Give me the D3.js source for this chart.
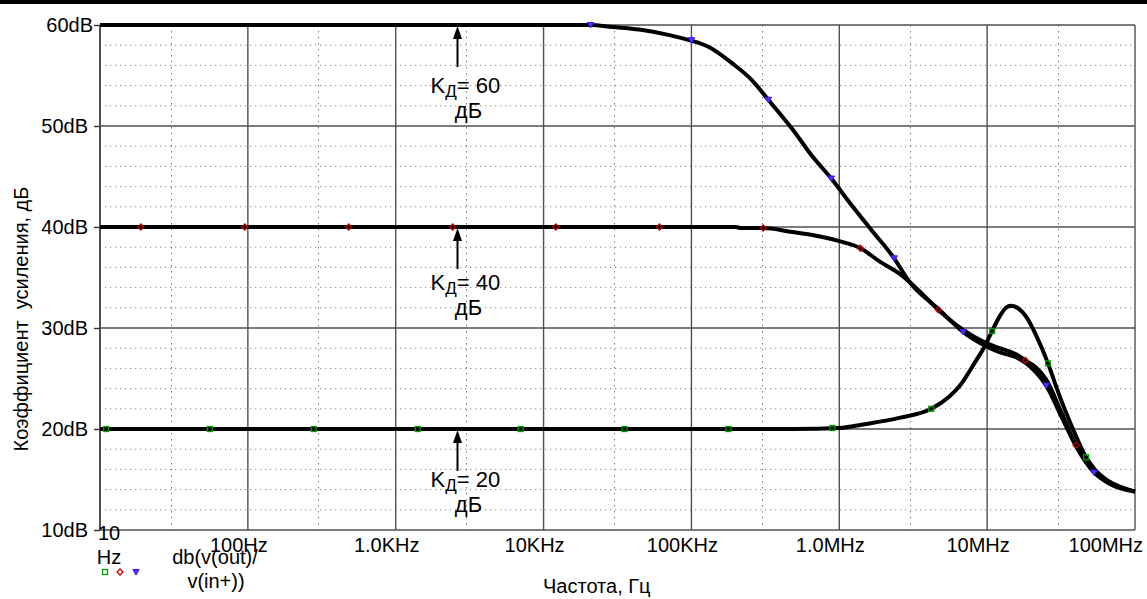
<!DOCTYPE html>
<html>
<head>
<meta charset="utf-8">
<script src="https://cdnjs.cloudflare.com/ajax/libs/d3/7.8.5/d3.min.js"></script>
<style>
  html, body { margin: 0; padding: 0; background: #fff; }
  svg { display: block; }
  text { font-family: "Liberation Sans", Arial, Helvetica, sans-serif; fill: #000; }
</style>
</head>
<body>
<svg id="chart" width="1147" height="599"></svg>
<script>
// ---------------- DATA ----------------
const yTicks = [10, 20, 30, 40, 50, 60];
const yTickLabels = ["10dB", "20dB", "30dB", "40dB", "50dB", "60dB"];
const xTicks = [10, 100, 1e3, 1e4, 1e5, 1e6, 1e7, 1e8];
const xTickLabels = ["10 Hz", "100Hz", "1.0KHz", "10KHz", "100KHz", "1.0MHz", "10MHz", "100MHz"];
const yMinor = [12, 14, 16, 18, 22, 24, 26, 28, 32, 34, 36, 38, 42, 44, 46, 48, 52, 54, 56, 58];
const xMinor = [30, 300, 3e3, 3e4, 3e5, 3e6, 3e7];

// Kд = 60 dB curve
const freq60 = [10, 20.8e3, 29.2e3, 46.7e3, 71e3, 96.9e3, 132e3, 189e3, 258e3, 331e3, 481e3, 657e3, 883e3,
  1.22e6, 1.67e6, 2.35e6, 2.97e6, 4.67e6, 6.89e6, 9.55e6, 12.1e6, 15.7e6, 18.4e6, 21.4e6, 25.1e6, 32.1e6,
  39.9e6, 52.8e6, 66.7e6, 100e6];
const gain60 = [60, 60, 59.8, 59.5, 59.0, 58.5, 57.8, 56.2, 54.5, 52.6, 49.7, 47.0, 44.8,
  42.1, 39.6, 36.9, 34.6, 31.9, 29.6, 28.3, 27.6, 27.1, 26.5, 25.6, 24.3, 21.1,
  18.3, 15.7, 14.6, 13.8];

// Kд = 40 dB curve
const freq40 = [10, 200e3, 215e3, 306e3, 481e3, 657e3, 1.0e6, 1.39e6, 1.87e6, 2.54e6, 3.4e6, 4.67e6,
  6.89e6, 9.55e6, 12.1e6, 15.7e6, 18.1e6, 21.4e6, 25.1e6, 32.1e6, 39.9e6, 52.8e6, 66.7e6, 100e6];
const gain40 = [40, 40, 39.9, 39.9, 39.5, 39.2, 38.6, 37.9, 36.6, 35.4, 33.8, 31.8,
  29.8, 28.6, 28.0, 27.4, 26.8, 26.1, 24.9, 21.5, 18.4, 15.9, 14.8, 13.8];

// Kд = 20 dB curve
const freq20 = [10, 500e3, 1.0e6, 1.52e6, 2.54e6, 4.19e6, 5.53e6, 6.47e6, 8.43e6, 9.55e6, 10.8e6,
  12.1e6, 13.4e6, 14.5e6, 16.4e6, 18.4e6, 21.4e6, 25.8e6, 29.3e6, 34.2e6, 39.9e6, 46.7e6, 52.8e6, 66.7e6, 100e6];
const gain20 = [20, 20, 20.1, 20.5, 21.1, 22.0, 23.2, 24.2, 26.8, 28.1, 29.7,
  31.1, 32.0, 32.2, 31.9, 31.1, 29.3, 26.5, 24.2, 21.6, 19.3, 17.2, 16.1, 14.8, 13.8];

// trace markers
const mk20f = [11, 55.3, 279, 1409, 7000, 35.3e3, 178e3, 898e3, 4.19e6, 10.8e6, 25.8e6, 46.7e6];
const mk20g = [20, 20, 20, 20, 20, 20, 20, 20.1, 22.0, 29.7, 26.5, 17.2];
const mk40f = [18.9, 95.5, 481, 2427, 12.1e3, 60.8e3, 306e3, 1.39e6, 4.67e6, 18.1e6, 39.9e6];
const mk40g = [40, 40, 40, 40, 40, 40, 39.9, 37.9, 31.8, 26.8, 18.4];
const mk60f = [20.8e3, 100e3, 331e3, 883e3, 2.35e6, 6.89e6, 25.1e6, 52.8e6];
const mk60g = [60, 58.5, 52.6, 44.8, 36.9, 29.6, 24.3, 15.7];

// annotations
const annoGain = [60, 40, 20];
const annoFreq = 2.6e3;
const annoLabels = ["60", "40", "20"];

const yTitle = "Коэффициент  усиления, дБ";
const xTitle = "Частота, Гц";
const legendText = ["db(v(out)/", "v(in+))"];

// ---------------- LAYOUT ----------------
const svg = d3.select("#chart");
const L = 100, R = 1135, T = 25, B = 530;
const x = d3.scaleLog().domain([10, 1e8]).range([L, R]);
const y = d3.scaleLinear().domain([10, 60]).range([B, T]);
const FONT = 20;

svg.append("rect").attr("x", 0).attr("y", 0).attr("width", 1147).attr("height", 4).attr("fill", "#000");

// minor dotted grid
const grid = svg.append("g");
grid.selectAll("line.hm").data(yMinor).join("line")
  .attr("x1", L).attr("x2", R).attr("y1", d => y(d)).attr("y2", d => y(d))
  .attr("stroke", "#8a8a8a").attr("stroke-width", 1).attr("stroke-dasharray", "1.3,3.7");
grid.selectAll("line.vm").data(xMinor).join("line")
  .attr("y1", T).attr("y2", B).attr("x1", d => Math.round(x(d)) + 0.5).attr("x2", d => Math.round(x(d)) + 0.5)
  .attr("stroke", "#7a7a7a").attr("stroke-width", 1).attr("stroke-dasharray", "1.5,4.5");

// major grid
grid.selectAll("line.hM").data(yTicks).join("line")
  .attr("x1", L).attr("x2", R).attr("y1", d => y(d)).attr("y2", d => y(d))
  .attr("stroke", "#505050").attr("stroke-width", 1.4);
grid.selectAll("line.vM").data(xTicks).join("line")
  .attr("y1", T).attr("y2", B).attr("x1", d => x(d)).attr("x2", d => x(d))
  .attr("stroke", "#505050").attr("stroke-width", d => (d === 10 ? 2 : 1.4));

// y axis ticks & labels
const yAxis = d3.axisLeft(y).tickValues(yTicks).tickSize(6).tickFormat((d, i) => yTickLabels[i]);
const gy = svg.append("g").attr("transform", `translate(${L},0)`).call(yAxis);
gy.select(".domain").remove();
gy.selectAll(".tick line").attr("stroke", "#333").attr("stroke-width", 1.4);
gy.selectAll(".tick text")
  .attr("font-size", FONT).attr("font-family", "Liberation Sans, Arial, sans-serif")
  .attr("fill", "#000")
  .attr("x", d => (d === 60 ? -7 : -12)).attr("dy", "0.33em");

// x axis labels
const gx = svg.append("g");
xTicks.forEach((d, i) => {
  const lab = xTickLabels[i];
  if (i === 0) {
    const parts = lab.split(" ");
    gx.append("text").attr("x", x(d) + 9).attr("y", 540).attr("text-anchor", "middle").attr("font-size", FONT).text(parts[0]);
    gx.append("text").attr("x", x(d) + 9).attr("y", 564).attr("text-anchor", "middle").attr("font-size", FONT).text(parts[1]);
  } else if (i === xTicks.length - 1) {
    gx.append("text").attr("x", 1143).attr("y", 552).attr("text-anchor", "end").attr("font-size", FONT).text(lab);
  } else {
    gx.append("text").attr("x", x(d) - 9).attr("y", 552).attr("text-anchor", "middle").attr("font-size", FONT).text(lab);
  }
});

// curves
const line = d3.line().x(d => x(d[0])).y(d => y(d[1])).curve(d3.curveMonotoneX);
const series = [
  d3.zip(freq20, gain20),
  d3.zip(freq40, gain40),
  d3.zip(freq60, gain60)
];
svg.append("g").selectAll("path").data(series).join("path")
  .attr("d", line).attr("fill", "none").attr("stroke", "#000")
  .attr("stroke-width", 4).attr("stroke-linejoin", "round").attr("stroke-linecap", "butt");

// markers
const mk = svg.append("g");
const sq = (g, cx, cy) => g.append("rect").attr("x", cx - 2.5).attr("y", cy - 2.5).attr("width", 5).attr("height", 5)
  .attr("fill", "none").attr("stroke", "#00a000").attr("stroke-width", 1.3);
const dia = (g, cx, cy) => g.append("path").attr("d", `M${cx},${cy - 3}L${cx + 3},${cy}L${cx},${cy + 3}L${cx - 3},${cy}Z`)
  .attr("fill", "none").attr("stroke", "#c00000").attr("stroke-width", 1.3);
const tri = (g, cx, cy) => g.append("path").attr("d", `M${cx - 3.2},${cy - 2.5}L${cx + 3.2},${cy - 2.5}L${cx},${cy + 3}Z`)
  .attr("fill", "#5a2cff").attr("stroke", "#4010ff").attr("stroke-width", 1);
d3.zip(mk20f, mk20g).forEach(d => sq(mk, x(d[0]), y(d[1])));
d3.zip(mk40f, mk40g).forEach(d => dia(mk, x(d[0]), y(d[1])));
d3.zip(mk60f, mk60g).forEach(d => tri(mk, x(d[0]), y(d[1])));

// annotations
const annoOff = [[67, 92], [62, 87], [57, 82]];
annoGain.forEach((g, i) => {
  const ax = Math.round(x(annoFreq)) + 0.5;
  const tip = y(g) + 1;
  svg.append("line").attr("x1", ax).attr("x2", ax).attr("y1", tip + 10).attr("y2", tip + 41)
    .attr("stroke", "#000").attr("stroke-width", 2);
  svg.append("path").attr("d", `M${ax},${tip}L${ax + 4.5},${tip + 13}L${ax - 4.5},${tip + 13}Z`).attr("fill", "#000");
  const t = svg.append("text").attr("x", ax - 27).attr("y", tip + annoOff[i][0]).attr("font-size", 22);
  t.append("tspan").text("K");
  t.append("tspan").attr("font-size", 17).attr("dy", 4).text("Д");
  t.append("tspan").attr("dy", -4).text("= " + annoLabels[i]);
  svg.append("text").attr("x", ax + 11).attr("y", tip + annoOff[i][1]).attr("text-anchor", "middle")
    .attr("font-size", 22).text("дБ");
});

// legend
sq(svg, 105, 572);
dia(svg, 120, 572);
tri(svg, 136, 572);
svg.append("text").attr("x", 215).attr("y", 564).attr("text-anchor", "middle").attr("font-size", FONT).text(legendText[0]);
svg.append("text").attr("x", 216).attr("y", 588).attr("text-anchor", "middle").attr("font-size", FONT).text(legendText[1]);

// titles
svg.append("text").attr("x", 543).attr("y", 593).attr("font-size", FONT).text(xTitle);
svg.append("text").attr("transform", "translate(28,319) rotate(-90)").attr("text-anchor", "middle")
  .attr("font-size", FONT).style("white-space", "pre").text(yTitle);
</script>
</body>
</html>
